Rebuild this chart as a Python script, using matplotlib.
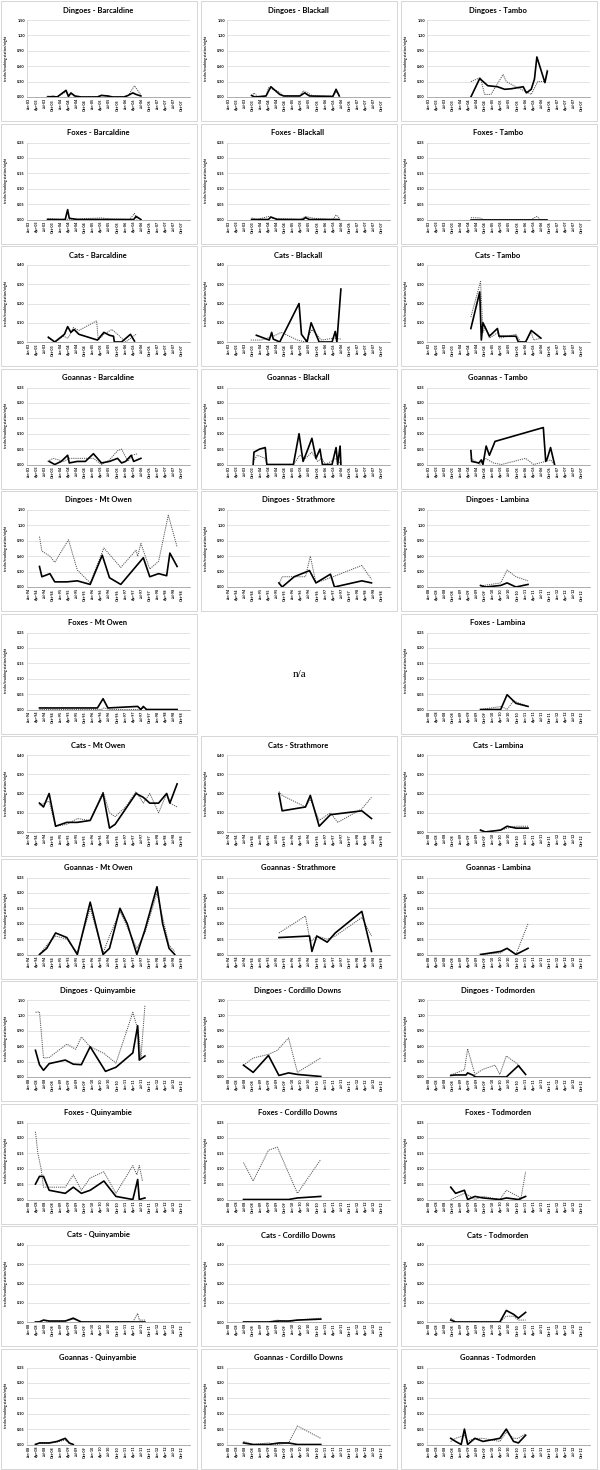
import matplotlib
matplotlib.use('Agg')
import matplotlib.pyplot as plt
from matplotlib.patches import Rectangle

plt.rcParams['font.family'] = ['Lato', 'DejaVu Sans']

# quarterly tick labels
mon = ['Jan', 'Apr', 'Jul', 'Oct']
ticks_0307 = [f'{m}-{y:02d}' for y in range(3, 8) for m in mon]
ticks_9498 = [f'{m}-{y}' for y in range(94, 99) for m in mon]
ticks_0812 = [f'{m}-{y:02d}' for y in range(8, 13) for m in mon]

y_max = {'Dingoes': 1.5, 'Foxes': 0.25, 'Cats': 0.4, 'Goannas': 0.25}
y_step = {'Dingoes': 0.3, 'Foxes': 0.05, 'Cats': 0.1, 'Goannas': 0.05}

# (quarter index, tracks/station/night); _s = solid series, _d = dotted series
dingo_barc_s = [(2.3, 0.0), (3.0, 0.01), (3.5, 0.0), (4.6, 0.13), (4.9, 0.01), (5.2, 0.08), (5.7, 0.02), (6.5, 0.0), (8.5, 0.0), (9.0, 0.03), (9.8, 0.02), (10.4, 0.0), (11.8, 0.0), (12.3, 0.03), (12.9, 0.08), (13.3, 0.05), (13.9, 0.02)]
dingo_barc_d = [(2.3, 0.02), (3.0, 0.0), (3.5, 0.01), (4.6, 0.1), (4.9, 0.03), (5.2, 0.06), (5.7, 0.01), (6.5, 0.0), (8.5, 0.01), (9.0, 0.04), (9.8, 0.01), (10.4, 0.0), (11.8, 0.01), (12.3, 0.02), (13.1, 0.22), (13.9, 0.04)]
dingo_blak_s = [(2.8, 0.03), (3.2, 0.0), (4.6, 0.02), (5.2, 0.2), (6.3, 0.05), (6.8, 0.02), (8.8, 0.02), (9.4, 0.08), (10.0, 0.02), (12.9, 0.01), (13.3, 0.15), (13.7, 0.02)]
dingo_blak_d = [(2.8, 0.02), (3.1, 0.08), (3.6, 0.0), (4.6, 0.02), (4.9, 0.18), (6.0, 0.12), (6.8, 0.02), (8.8, 0.02), (9.2, 0.12), (9.8, 0.08), (10.4, 0.02), (12.9, 0.02), (13.3, 0.1), (13.7, 0.05)]
dingo_tamb_s = [(5.2, 0.0), (6.3, 0.36), (7.3, 0.22), (8.5, 0.2), (9.4, 0.15), (10.2, 0.16), (11.7, 0.2), (12.1, 0.08), (12.7, 0.15), (13.1, 0.35), (13.4, 0.78), (14.4, 0.28), (14.7, 0.5)]
dingo_tamb_d = [(5.2, 0.3), (6.4, 0.38), (6.9, 0.05), (7.7, 0.05), (9.2, 0.44), (9.6, 0.3), (10.8, 0.2), (12.1, 0.1), (12.7, 0.05), (13.5, 0.3), (14.4, 0.3), (14.7, 0.55)]

fox_barc_s = [(2.3, 0.0), (4.5, 0.0), (4.8, 0.032), (5.0, 0.004), (6.0, 0.0), (13.0, 0.0), (13.3, 0.01), (13.9, 0.0)]
fox_barc_d = [(2.3, 0.003), (4.0, 0.0), (9.0, 0.005), (10.0, 0.002), (12.5, 0.0), (13.1, 0.02), (13.4, 0.0)]
fox_blak_s = [(2.8, 0.0), (4.9, 0.0), (5.2, 0.008), (6.0, 0.0), (9.2, 0.0), (9.5, 0.006), (10.0, 0.0), (13.7, 0.0)]
fox_blak_d = [(2.8, 0.005), (3.5, 0.0), (4.9, 0.01), (5.5, 0.004), (8.8, 0.0), (9.5, 0.01), (10.5, 0.004), (12.9, 0.0), (13.3, 0.015), (13.7, 0.005)]
fox_tamb_s = [(5.2, 0.0), (14.7, 0.0)]
fox_tamb_d = [(5.2, 0.006), (6.3, 0.005), (6.8, 0.0), (12.7, 0.0), (13.4, 0.01), (13.8, 0.0), (14.7, 0.0)]

cat_barc_s = [(2.4, 0.025), (3.2, 0.0), (4.4, 0.04), (4.8, 0.08), (5.2, 0.05), (5.6, 0.065), (6.2, 0.04), (8.5, 0.01), (9.3, 0.05), (10.0, 0.035), (10.5, 0.03), (10.6, 0.0), (11.5, 0.0), (12.6, 0.04), (13.1, 0.005)]
cat_barc_d = [(2.4, 0.02), (3.2, 0.0), (4.3, 0.03), (4.8, 0.02), (5.0, 0.03), (5.5, 0.075), (6.2, 0.06), (8.4, 0.11), (8.6, 0.01), (9.3, 0.04), (10.3, 0.065), (11.0, 0.04), (12.0, 0.0), (13.3, 0.04)]
cat_blak_s = [(3.4, 0.035), (5.0, 0.01), (5.3, 0.05), (5.5, 0.015), (6.3, 0.0), (8.7, 0.2), (9.0, 0.04), (9.7, 0.0), (10.2, 0.1), (11.2, 0.0), (12.8, 0.0), (13.2, 0.055), (13.4, 0.0), (13.9, 0.275)]
cat_blak_d = [(2.7, 0.01), (4.0, 0.01), (5.5, 0.03), (6.5, 0.05), (8.5, 0.01), (9.5, 0.0), (10.3, 0.065), (11.5, 0.01), (13.0, 0.02), (13.9, 0.015)]
cat_tamb_s = [(5.2, 0.07), (6.3, 0.26), (6.5, 0.01), (6.7, 0.1), (7.5, 0.03), (8.5, 0.07), (8.7, 0.03), (10.8, 0.03), (11.1, 0.0), (12.0, 0.0), (12.7, 0.06), (13.9, 0.02)]
cat_tamb_d = [(5.2, 0.13), (6.4, 0.315), (6.7, 0.05), (7.0, 0.08), (7.5, 0.02), (8.6, 0.05), (8.8, 0.02), (10.8, 0.04), (11.4, 0.0), (12.0, 0.0), (12.7, 0.05), (13.0, 0.01), (13.9, 0.02)]

goan_barc_s = [(2.5, 0.01), (3.2, 0.0), (4.0, 0.01), (4.8, 0.03), (5.0, 0.005), (6.0, 0.01), (7.0, 0.01), (8.0, 0.035), (9.0, 0.005), (10.0, 0.01), (11.0, 0.02), (11.5, 0.005), (12.0, 0.01), (12.7, 0.03), (13.0, 0.01), (13.9, 0.02)]
goan_barc_d = [(2.3, 0.01), (3.0, 0.02), (4.3, 0.01), (5.0, 0.02), (6.0, 0.02), (8.0, 0.02), (9.0, 0.0), (10.0, 0.015), (11.0, 0.045), (11.5, 0.05), (12.3, 0.01), (12.8, 0.03), (13.5, 0.035)]
goan_blak_s = [(3.0, 0.0), (3.1, 0.04), (3.8, 0.05), (4.5, 0.055), (4.7, 0.0), (8.0, 0.0), (8.7, 0.1), (9.2, 0.01), (9.8, 0.05), (10.3, 0.085), (10.8, 0.02), (11.3, 0.05), (11.6, 0.0), (12.8, 0.0), (13.3, 0.055), (13.5, 0.0), (13.8, 0.06), (13.9, 0.0)]
goan_blak_d = [(3.0, 0.01), (3.5, 0.03), (4.5, 0.02), (4.7, 0.0), (8.0, 0.0), (8.8, 0.03), (9.5, 0.02), (10.3, 0.04), (11.0, 0.01), (11.5, 0.02), (12.0, 0.0), (13.3, 0.02), (13.9, 0.0)]
goan_tamb_s = [(5.2, 0.045), (5.3, 0.01), (6.2, 0.005), (6.5, 0.015), (6.7, 0.0), (7.1, 0.06), (7.5, 0.03), (8.2, 0.075), (14.2, 0.12), (14.5, 0.01), (14.7, 0.02), (15.1, 0.055), (15.6, 0.0)]
goan_tamb_d = [(5.2, 0.02), (6.3, 0.0), (7.0, 0.02), (8.0, 0.005), (9.0, 0.0), (12.0, 0.02), (13.0, 0.0), (14.5, 0.01), (15.1, 0.015), (15.6, 0.0)]

dingo_mtow_s = [(1.3, 0.4), (1.6, 0.2), (2.6, 0.26), (3.2, 0.1), (4.7, 0.1), (6.0, 0.12), (7.6, 0.05), (9.1, 0.62), (10.0, 0.18), (11.4, 0.05), (14.2, 0.57), (15.0, 0.2), (16.1, 0.26), (17.1, 0.22), (17.5, 0.66), (18.4, 0.4)]
dingo_mtow_d = [(1.3, 0.98), (1.6, 0.7), (2.6, 0.6), (3.2, 0.48), (4.9, 0.92), (6.0, 0.33), (7.6, 0.08), (9.3, 0.76), (11.4, 0.38), (13.3, 0.72), (13.5, 0.6), (13.9, 0.85), (15.0, 0.35), (16.1, 0.5), (17.3, 1.4), (18.4, 0.78)]
dingo_strm_s = [(6.2, 0.08), (6.6, 0.0), (8.1, 0.2), (10.0, 0.32), (10.8, 0.08), (12.6, 0.25), (13.1, 0.0), (16.5, 0.12), (17.7, 0.08)]
dingo_strm_d = [(6.2, 0.05), (6.6, 0.2), (9.5, 0.2), (10.1, 0.6), (10.8, 0.08), (12.6, 0.18), (16.5, 0.42), (17.7, 0.15)]
dingo_lamb_s = [(6.4, 0.03), (7.0, 0.0), (8.9, 0.03), (9.7, 0.08), (10.8, 0.0), (12.3, 0.05)]
dingo_lamb_d = [(6.4, 0.02), (8.9, 0.08), (9.7, 0.33), (10.8, 0.2), (12.3, 0.12)]

fox_mtow_s = [(1.3, 0.005), (8.5, 0.005), (9.2, 0.035), (9.8, 0.005), (13.5, 0.01), (13.9, 0.0), (14.2, 0.01), (14.6, 0.0), (18.4, 0.0)]
fox_mtow_d = [(1.3, 0.0), (9.0, 0.0), (9.3, 0.005), (10.0, 0.0), (13.8, 0.0), (14.2, 0.006), (14.6, 0.0), (18.4, 0.0)]
fox_lamb_s = [(6.4, 0.0), (8.9, 0.0), (9.7, 0.048), (10.8, 0.02), (12.3, 0.01)]
fox_lamb_d = [(6.4, 0.0), (9.0, 0.01), (9.7, 0.0), (10.5, 0.028), (12.3, 0.01)]

cat_mtow_s = [(1.3, 0.15), (1.8, 0.13), (2.5, 0.2), (3.3, 0.03), (4.7, 0.05), (6.0, 0.05), (7.6, 0.06), (9.2, 0.2), (10.0, 0.02), (10.7, 0.04), (12.0, 0.12), (13.3, 0.2), (14.2, 0.18), (15.0, 0.15), (16.1, 0.15), (17.1, 0.2), (17.5, 0.15), (18.4, 0.25)]
cat_mtow_d = [(1.3, 0.14), (2.5, 0.16), (3.3, 0.03), (4.7, 0.04), (6.0, 0.07), (7.6, 0.06), (9.2, 0.21), (10.0, 0.1), (10.7, 0.08), (12.0, 0.13), (13.3, 0.21), (14.2, 0.15), (15.0, 0.2), (16.1, 0.1), (17.1, 0.2), (17.5, 0.15), (18.4, 0.13)]
cat_strm_s = [(6.2, 0.2), (6.6, 0.11), (9.5, 0.13), (10.1, 0.19), (11.2, 0.03), (12.6, 0.09), (16.5, 0.11), (17.7, 0.07)]
cat_strm_d = [(6.2, 0.21), (6.6, 0.19), (9.5, 0.13), (10.1, 0.17), (11.2, 0.06), (12.6, 0.1), (13.5, 0.05), (16.5, 0.12), (17.7, 0.18)]
cat_lamb_s = [(6.4, 0.01), (7.0, 0.0), (8.9, 0.01), (9.7, 0.03), (10.8, 0.02), (12.3, 0.02)]
cat_lamb_d = [(6.4, 0.0), (8.9, 0.01), (9.7, 0.02), (10.8, 0.03), (12.3, 0.03)]

goan_mtow_s = [(1.3, 0.0), (2.2, 0.02), (3.3, 0.07), (4.7, 0.055), (6.0, 0.0), (7.6, 0.17), (9.2, 0.0), (10.0, 0.02), (11.3, 0.15), (12.2, 0.1), (13.4, 0.0), (14.4, 0.08), (15.9, 0.22), (16.6, 0.1), (17.4, 0.02), (18.1, 0.0)]
goan_mtow_d = [(1.3, 0.0), (2.2, 0.03), (3.3, 0.06), (4.7, 0.05), (6.0, 0.005), (7.6, 0.15), (9.2, 0.005), (10.0, 0.06), (11.3, 0.14), (12.2, 0.09), (13.4, 0.02), (14.4, 0.07), (15.9, 0.2), (16.6, 0.12), (17.4, 0.03), (18.1, 0.01)]
goan_strm_s = [(6.2, 0.055), (10.0, 0.06), (10.3, 0.01), (10.9, 0.06), (12.2, 0.04), (13.2, 0.07), (16.5, 0.14), (17.7, 0.01)]
goan_strm_d = [(6.2, 0.07), (9.5, 0.125), (10.1, 0.04), (10.9, 0.06), (12.2, 0.05), (13.2, 0.06), (16.5, 0.12), (17.7, 0.06)]
goan_lamb_s = [(6.4, 0.0), (8.9, 0.01), (9.7, 0.02), (10.8, 0.0), (12.3, 0.02)]
goan_lamb_d = [(6.4, 0.0), (8.9, 0.005), (9.7, 0.02), (10.8, 0.0), (12.3, 0.1)]

dingo_quin_s = [(0.8, 0.52), (1.3, 0.24), (1.8, 0.13), (2.5, 0.26), (4.5, 0.33), (5.5, 0.25), (6.5, 0.24), (7.6, 0.59), (9.5, 0.11), (10.8, 0.19), (12.9, 0.47), (13.5, 1.0), (13.7, 0.33), (14.4, 0.41)]
dingo_quin_d = [(0.8, 1.26), (1.3, 1.27), (1.8, 0.37), (2.5, 0.38), (4.7, 0.64), (5.8, 0.54), (6.5, 0.78), (7.6, 0.59), (9.3, 0.46), (10.8, 0.27), (12.9, 1.26), (13.6, 0.88), (13.9, 0.37), (14.4, 1.39)]
dingo_cord_s = [(1.8, 0.23), (3.0, 0.09), (4.9, 0.42), (6.2, 0.03), (7.4, 0.08), (8.5, 0.05), (11.4, 0.01)]
dingo_cord_d = [(1.8, 0.23), (3.0, 0.37), (4.9, 0.44), (6.0, 0.52), (7.4, 0.76), (8.5, 0.09), (11.4, 0.37)]
dingo_todm_s = [(2.7, 0.03), (3.3, 0.04), (4.6, 0.04), (4.8, 0.08), (5.4, 0.04), (5.8, 0.0), (9.6, 0.0), (11.1, 0.22), (12.0, 0.05)]
dingo_todm_d = [(2.7, 0.04), (4.4, 0.14), (4.8, 0.55), (5.7, 0.05), (6.7, 0.15), (8.2, 0.23), (8.8, 0.05), (9.6, 0.41), (11.1, 0.24), (12.0, 0.05)]

fox_quin_s = [(0.8, 0.05), (1.3, 0.075), (1.8, 0.075), (2.5, 0.03), (4.5, 0.02), (5.5, 0.04), (6.5, 0.02), (7.6, 0.03), (9.3, 0.06), (10.8, 0.01), (12.9, 0.0), (13.5, 0.065), (13.7, 0.0), (14.4, 0.005)]
fox_quin_d = [(0.8, 0.22), (1.1, 0.15), (1.5, 0.1), (1.8, 0.04), (2.5, 0.04), (4.5, 0.04), (5.5, 0.08), (6.5, 0.03), (7.6, 0.07), (9.3, 0.09), (10.8, 0.02), (12.9, 0.11), (13.4, 0.08), (13.7, 0.11), (14.1, 0.06)]
fox_cord_s = [(1.8, 0.0), (3.0, 0.0), (4.9, 0.0), (6.2, 0.0), (7.4, 0.0), (8.5, 0.005), (11.4, 0.01)]
fox_cord_d = [(1.8, 0.12), (3.0, 0.06), (4.9, 0.16), (6.0, 0.17), (8.5, 0.02), (11.4, 0.13)]
fox_todm_s = [(2.7, 0.04), (3.3, 0.02), (4.4, 0.03), (4.8, 0.0), (5.7, 0.01), (6.7, 0.005), (8.8, 0.0), (9.6, 0.005), (11.1, 0.0), (12.0, 0.01)]
fox_todm_d = [(2.7, 0.0), (4.4, 0.02), (4.8, 0.015), (5.7, 0.0), (6.7, 0.01), (8.8, 0.0), (9.6, 0.03), (11.1, 0.01), (11.4, 0.0), (12.0, 0.09)]

cat_quin_s = [(0.8, 0.0), (1.3, 0.0), (1.8, 0.01), (2.5, 0.005), (4.5, 0.005), (5.5, 0.02), (6.5, 0.0), (12.9, 0.0), (14.4, 0.0)]
cat_quin_d = [(0.8, 0.0), (1.8, 0.008), (2.5, 0.003), (4.5, 0.004), (5.5, 0.015), (6.5, 0.0), (12.9, 0.0), (13.5, 0.045), (13.7, 0.01), (14.4, 0.01)]
cat_cord_s = [(1.8, 0.0), (3.0, 0.0), (4.9, 0.0), (6.2, 0.005), (7.4, 0.005), (8.5, 0.01), (11.4, 0.015)]
cat_cord_d = [(1.8, 0.0), (4.9, 0.0), (6.0, 0.01), (7.4, 0.0), (8.5, 0.01), (11.4, 0.02)]
cat_todm_s = [(2.7, 0.01), (3.3, 0.0), (8.8, 0.0), (9.6, 0.06), (10.5, 0.04), (11.1, 0.02), (12.0, 0.05)]
cat_todm_d = [(2.7, 0.02), (3.3, 0.0), (8.8, 0.0), (9.6, 0.03), (10.5, 0.03), (11.1, 0.01), (12.0, 0.01)]

goan_quin_s = [(0.8, 0.0), (1.3, 0.005), (2.5, 0.005), (3.5, 0.01), (4.5, 0.02), (5.0, 0.005), (5.5, 0.0)]
goan_quin_d = [(0.8, 0.002), (1.3, 0.004), (2.5, 0.004), (3.5, 0.008), (4.5, 0.015), (5.0, 0.003), (5.5, 0.0)]
goan_cord_s = [(1.8, 0.005), (3.0, 0.0), (4.9, 0.0), (6.2, 0.005), (7.4, 0.005), (8.5, 0.0), (11.4, 0.0)]
goan_cord_d = [(1.8, 0.01), (3.0, 0.0), (4.9, 0.005), (6.0, 0.0), (7.4, 0.005), (8.5, 0.06), (11.4, 0.02)]
goan_todm_s = [(2.7, 0.02), (3.3, 0.01), (4.0, 0.0), (4.4, 0.05), (4.8, 0.0), (5.7, 0.02), (6.7, 0.01), (8.8, 0.02), (9.6, 0.05), (10.5, 0.01), (11.1, 0.005), (12.0, 0.03)]
goan_todm_d = [(2.7, 0.01), (3.3, 0.02), (4.4, 0.03), (4.8, 0.01), (5.7, 0.02), (6.7, 0.02), (8.8, 0.01), (9.6, 0.04), (10.5, 0.02), (11.1, 0.02), (12.0, 0.035)]

rows = [
    ('Dingoes', [('Barcaldine', ticks_0307, dingo_barc_s, dingo_barc_d), ('Blackall', ticks_0307, dingo_blak_s, dingo_blak_d), ('Tambo', ticks_0307, dingo_tamb_s, dingo_tamb_d)]),
    ('Foxes', [('Barcaldine', ticks_0307, fox_barc_s, fox_barc_d), ('Blackall', ticks_0307, fox_blak_s, fox_blak_d), ('Tambo', ticks_0307, fox_tamb_s, fox_tamb_d)]),
    ('Cats', [('Barcaldine', ticks_0307, cat_barc_s, cat_barc_d), ('Blackall', ticks_0307, cat_blak_s, cat_blak_d), ('Tambo', ticks_0307, cat_tamb_s, cat_tamb_d)]),
    ('Goannas', [('Barcaldine', ticks_0307, goan_barc_s, goan_barc_d), ('Blackall', ticks_0307, goan_blak_s, goan_blak_d), ('Tambo', ticks_0307, goan_tamb_s, goan_tamb_d)]),
    ('Dingoes', [('Mt Owen', ticks_9498, dingo_mtow_s, dingo_mtow_d), ('Strathmore', ticks_9498, dingo_strm_s, dingo_strm_d), ('Lambina', ticks_0812, dingo_lamb_s, dingo_lamb_d)]),
    ('Foxes', [('Mt Owen', ticks_9498, fox_mtow_s, fox_mtow_d), None, ('Lambina', ticks_0812, fox_lamb_s, fox_lamb_d)]),
    ('Cats', [('Mt Owen', ticks_9498, cat_mtow_s, cat_mtow_d), ('Strathmore', ticks_9498, cat_strm_s, cat_strm_d), ('Lambina', ticks_0812, cat_lamb_s, cat_lamb_d)]),
    ('Goannas', [('Mt Owen', ticks_9498, goan_mtow_s, goan_mtow_d), ('Strathmore', ticks_9498, goan_strm_s, goan_strm_d), ('Lambina', ticks_0812, goan_lamb_s, goan_lamb_d)]),
    ('Dingoes', [('Quinyambie', ticks_0812, dingo_quin_s, dingo_quin_d), ('Cordillo Downs', ticks_0812, dingo_cord_s, dingo_cord_d), ('Todmorden', ticks_0812, dingo_todm_s, dingo_todm_d)]),
    ('Foxes', [('Quinyambie', ticks_0812, fox_quin_s, fox_quin_d), ('Cordillo Downs', ticks_0812, fox_cord_s, fox_cord_d), ('Todmorden', ticks_0812, fox_todm_s, fox_todm_d)]),
    ('Cats', [('Quinyambie', ticks_0812, cat_quin_s, cat_quin_d), ('Cordillo Downs', ticks_0812, cat_cord_s, cat_cord_d), ('Todmorden', ticks_0812, cat_todm_s, cat_todm_d)]),
    ('Goannas', [('Quinyambie', ticks_0812, goan_quin_s, goan_quin_d), ('Cordillo Downs', ticks_0812, goan_cord_s, goan_cord_d), ('Todmorden', ticks_0812, goan_todm_s, goan_todm_d)]),
]

W, H = 600, 1470
ROW_H = 122.5
COL_W = 200


def fx(px):
    return px / W


def fy(py):
    return 1 - py / H


fig = plt.figure(figsize=(6, 14.7), dpi=100)
fig.patch.set_facecolor('white')

for r, (species, panels) in enumerate(rows):
    for c, panel in enumerate(panels):
        x0 = c * COL_W
        y0 = r * ROW_H
        if panel is None:
            fig.text(fx(x0 + 100), fy(y0 + 62), 'n/a', ha='center', va='center',
                     fontsize=8, family=['Liberation Serif', 'DejaVu Serif'])
            continue
        site, ticks, solid, dotted = panel

        # tile border
        fig.add_artist(Rectangle((fx(x0 + 1), fy(y0 + ROW_H - 1.5)), 196 / W, (ROW_H - 2.5) / H,
                                 transform=fig.transFigure, fill=False, ec='#d0d0d0', lw=0.6))
        fig.text(fx(x0 + 98), fy(y0 + 10), f'{species} - {site}', ha='center', va='center',
                 fontsize=5.5, fontweight='bold')
        fig.text(fx(x0 + 6), fy(y0 + 58), 'tracks/tracking station/night', rotation=90,
                 ha='center', va='center', fontsize=2.4, fontweight='bold')

        ax = fig.add_axes([fx(x0 + 27), fy(y0 + 97), 163 / W, 77 / H])
        ymax = y_max[species]
        step = y_step[species]
        nt = int(round(ymax / step))
        yt = [i * step for i in range(nt + 1)]
        ax.set_ylim(0, ymax)
        ax.set_yticks(yt)
        ax.set_yticklabels([f'{v:.2f}' for v in yt], fontsize=2.8, fontweight='bold')
        ax.set_xlim(-0.25, 20.0)
        ax.set_xticks(range(len(ticks)))
        ax.set_xticklabels(ticks, rotation=90, fontsize=2.6, fontweight='bold')
        ax.tick_params(length=0, pad=1.5)
        ax.grid(axis='y', color='#d9d9d9', lw=0.5)
        ax.set_axisbelow(True)
        for s in ['top', 'right']:
            ax.spines[s].set_visible(False)
        ax.spines['left'].set_color('#c8c8c8')
        ax.spines['bottom'].set_color('#a0a0a0')
        ax.spines['left'].set_linewidth(0.5)
        ax.spines['bottom'].set_linewidth(0.6)

        dx = [p[0] for p in dotted]
        dy = [p[1] for p in dotted]
        sx = [p[0] for p in solid]
        sy = [p[1] for p in solid]
        ax.plot(dx, dy, color='#555555', lw=0.7, ls=(0, (1.2, 1.0)))
        ax.plot(sx, sy, color='black', lw=1.2)

fig.savefig('out.png', dpi=100)
